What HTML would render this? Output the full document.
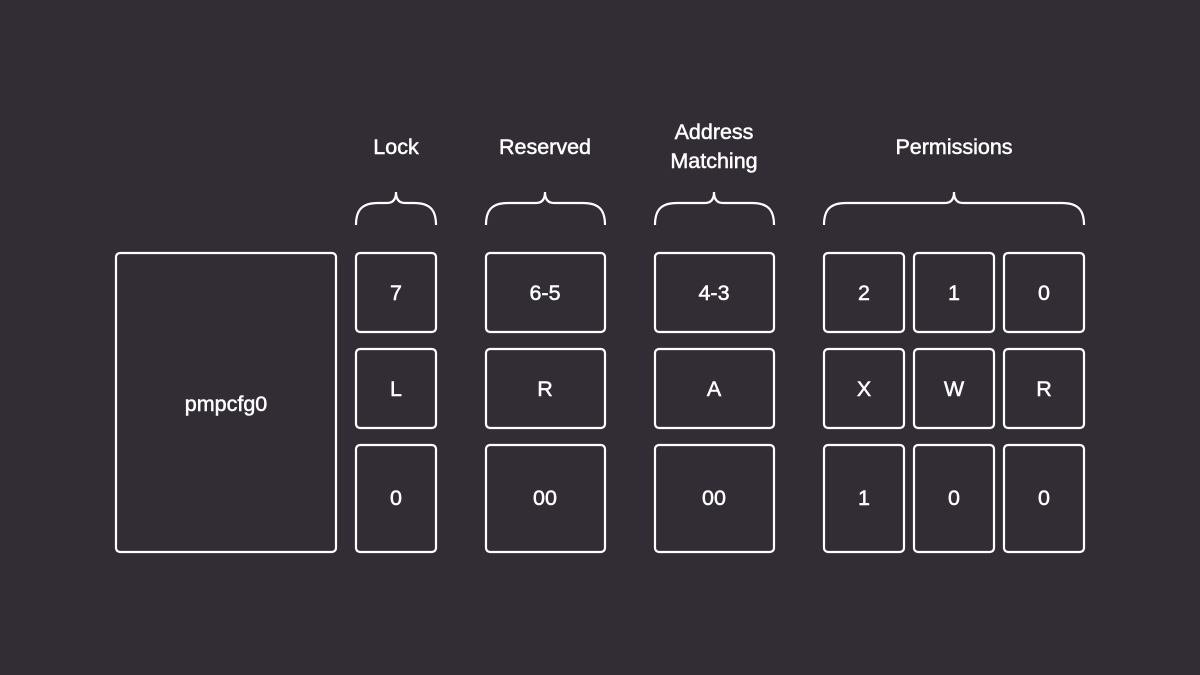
<!DOCTYPE html>
<html><head><style>
html,body{margin:0;padding:0;background:#322c35;}
svg{display:block}
text{font-family:"Liberation Sans",sans-serif;fill:#fff;stroke:#fff;stroke-width:0.5;font-size:21.5px;text-anchor:middle;dominant-baseline:central}
rect,path{fill:none;stroke:#fff;stroke-width:2.2}
</style></head><body>
<svg width="1200" height="675" viewBox="0 0 1200 675">
<rect x="116" y="253" width="220" height="299" rx="4"/>
<text x="226" y="404">pmpcfg0</text>
<rect x="356" y="253" width="80" height="79" rx="4"/><text x="396" y="293">7</text>
<rect x="356" y="349" width="80" height="79" rx="4"/><text x="396" y="389">L</text>
<rect x="356" y="445" width="80" height="107" rx="4"/><text x="396" y="498">0</text>
<rect x="486" y="253" width="119" height="79" rx="4"/><text x="545" y="293">6-5</text>
<rect x="486" y="349" width="119" height="79" rx="4"/><text x="545" y="389">R</text>
<rect x="486" y="445" width="119" height="107" rx="4"/><text x="545" y="498">00</text>
<rect x="655" y="253" width="119" height="79" rx="4"/><text x="714" y="293">4-3</text>
<rect x="655" y="349" width="119" height="79" rx="4"/><text x="714" y="389">A</text>
<rect x="655" y="445" width="119" height="107" rx="4"/><text x="714" y="498">00</text>
<rect x="824" y="253" width="80" height="79" rx="4"/><text x="864" y="293">2</text>
<rect x="914" y="253" width="80" height="79" rx="4"/><text x="954" y="293">1</text>
<rect x="1004" y="253" width="80" height="79" rx="4"/><text x="1044" y="293">0</text>
<rect x="824" y="349" width="80" height="79" rx="4"/><text x="864" y="389">X</text>
<rect x="914" y="349" width="80" height="79" rx="4"/><text x="954" y="389">W</text>
<rect x="1004" y="349" width="80" height="79" rx="4"/><text x="1044" y="389">R</text>
<rect x="824" y="445" width="80" height="107" rx="4"/><text x="864" y="498">1</text>
<rect x="914" y="445" width="80" height="107" rx="4"/><text x="954" y="498">0</text>
<rect x="1004" y="445" width="80" height="107" rx="4"/><text x="1044" y="498">0</text>
<path d="M356 225 C356 210 362 203 378 203 L387 203 Q396 203 396 192 Q396 203 405 203 L414 203 C430 203 436 210 436 225"/>
<path d="M486 225 C486 210 492 203 508 203 L536 203 Q545 203 545 192 Q545 203 554 203 L583 203 C599 203 605 210 605 225"/>
<path d="M655 225 C655 210 661 203 677 203 L705 203 Q714 203 714 192 Q714 203 723 203 L752 203 C768 203 774 210 774 225"/>
<path d="M824 225 C824 210 830 203 846 203 L945 203 Q954 203 954 192 Q954 203 963 203 L1062 203 C1078 203 1084 210 1084 225"/>
<text x="396" y="147">Lock</text>
<text x="545" y="147">Reserved</text>
<text x="714" y="132">Address</text>
<text x="714" y="161">Matching</text>
<text x="954" y="147">Permissions</text>
</svg>
</body></html>
